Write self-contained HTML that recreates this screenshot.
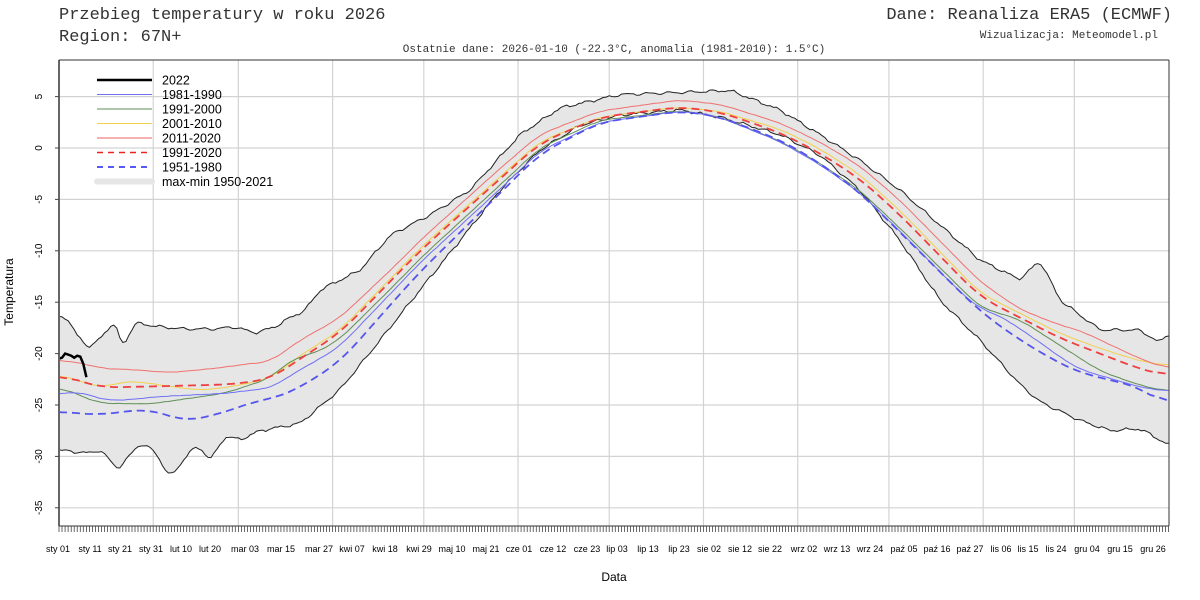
<!DOCTYPE html>
<html><head><meta charset="utf-8"><style>
html,body{margin:0;padding:0;background:#fff;width:1200px;height:600px;overflow:hidden}
svg{display:block}
.m{font-family:"Liberation Mono",monospace;fill:#333}
.s{font-family:"Liberation Sans",Arial,sans-serif;fill:#000}
</style></head><body>
<svg id="c" width="1200" height="600" xmlns="http://www.w3.org/2000/svg">
<text class="m" x="59" y="19" font-size="17">Przebieg temperatury w roku 2026</text>
<text class="m" x="59" y="41" font-size="17">Region: 67N+</text>
<text class="m" x="1172" y="19" font-size="17" text-anchor="end">Dane: Reanaliza ERA5 (ECMWF)</text>
<text class="m" x="1158" y="38" font-size="11" text-anchor="end">Wizualizacja: Meteomodel.pl</text>
<text class="m" x="614" y="52" font-size="11" text-anchor="middle">Ostatnie dane: 2026-01-10 (-22.3°C, anomalia (1981-2010): 1.5°C)</text>
<text class="s" x="614" y="581" font-size="12" text-anchor="middle">Data</text>
<text class="s" font-size="12" text-anchor="middle" transform="translate(13,292) rotate(-90)">Temperatura</text>
<g id="g"></g>
</svg>
<script>
var NS="http://www.w3.org/2000/svg",g=document.getElementById('g');
function el(t,a,txt){var e=document.createElementNS(NS,t);for(var k in a)e.setAttribute(k,a[k]);if(txt!=null)e.textContent=txt;g.appendChild(e);return e;}
var L=59,R=1169,T=60,B=526;
function X(d){return L+d*3.04;}
function Y(v){return 148-v*10.28;}
function xd(x){return (x-59)/3.04;}
function interp(pts,d){for(var i=0;i<pts.length-1;i++){if(d<=pts[i+1][0]){var a=pts[i],b=pts[i+1],t=(d-a[0])/(b[0]-a[0]);return a[1]+(b[1]-a[1])*t;}}return pts[pts.length-1][1];}
function P(arr){return arr.map(function(p){return [xd(p[0]),p[1]];});}
var up=P([[59,-16.5],[66,-16.3],[75,-18],[90,-19.5],[100,-18.5],[115,-16.8],[122,-19.5],[135,-17],[160,-17.4],[185,-17.6],[215,-17.6],[235,-17.4],[255,-18],[275,-17.4],[290,-16.5],[305,-15.8],[320,-13.8],[360,-11.9],[390,-8.5],[430,-6.5],[470,-4.1],[520,1.3],[560,3.9],[620,5.2],[680,5.4],[730,5.6],[780,3.7],[820,1.3],[860,-1.2],[900,-4.1],[940,-7.5],[980,-10.9],[1020,-12.8],[1040,-10.9],[1060,-14.8],[1100,-17.7],[1140,-17.7],[1160,-19],[1169,-17.8]]);
var lo=P([[59,-29.4],[90,-29.7],[100,-29.3],[118,-31.3],[140,-28.7],[155,-29.5],[170,-32.1],[190,-29.5],[200,-29],[210,-30.5],[225,-28],[240,-28.4],[260,-27.5],[300,-26.8],[340,-23.5],[380,-18.7],[420,-13.8],[460,-9],[500,-4.1],[540,-0.2],[580,2.2],[620,3.2],[680,3.7],[720,3.0],[780,1.3],[820,-0.7],[860,-4.1],[900,-9],[940,-14.8],[980,-18.7],[1020,-23],[1040,-24.7],[1080,-26.5],[1110,-27.5],[1140,-27.3],[1169,-28.9]]);
var mean=P([[59,-22],[100,-23.3],[150,-23.2],[230,-23],[270,-22.5],[300,-20.5],[340,-18],[380,-14],[420,-10],[460,-6.5],[500,-3],[540,0.5],[600,3],[680,4],[720,3.5],[780,1.5],[820,-0.5],[860,-3],[900,-6.5],[940,-10.5],[980,-14.5],[1020,-16.5],[1060,-18.5],[1100,-20],[1140,-21.5],[1169,-22.2]]);
function nz(d,s,a){return a*(Math.sin(d*1.7+s)*0.5+Math.sin(d*3.1+s*2)*0.3+Math.sin(d*0.9+s*3)*0.4);}
function smooth(v,w){var o=[];for(var i=0;i<v.length;i++){var s=0,n=0;for(var j=-w;j<=w;j++){var k=i+j;if(k>=0&&k<v.length){s+=v[k];n++;}}o.push(s/n);}return o;}
function series(f,w){var v=[];for(var d=0;d<=365;d++)v.push(f(d));if(w)v=smooth(v,w);return v.map(function(y,d){return [X(d),Y(y)];});}
function path(s){return s.map(function(p,i){return (i?'L':'M')+p[0].toFixed(1)+' '+p[1].toFixed(1);}).join('');}
[5,0,-5,-10,-15,-20,-25,-30,-35].forEach(function(v){el('line',{x1:L,x2:R,y1:Y(v),y2:Y(v),stroke:'#d3d3d3','stroke-width':1.2});});
[0,31,59,90,120,151,181,212,243,273,304,334].forEach(function(d){el('line',{x1:X(d),x2:X(d),y1:T,y2:B,stroke:'#d3d3d3','stroke-width':1.2});});
var U=series(function(d){return interp(up,d)+nz(d,1,0.35);},1),Lo=series(function(d){return interp(lo,d)+nz(d,2,0.35);},1);
el('path',{d:path(U)+Lo.slice().reverse().map(function(p){return 'L'+p[0].toFixed(1)+' '+p[1].toFixed(1);}).join('')+'Z',fill:'#e6e6e6'});
el('path',{d:path(U),fill:'none',stroke:'#222','stroke-width':1});
el('path',{d:path(Lo),fill:'none',stroke:'#222','stroke-width':1});
function off(pts){var q=P(pts);return function(d){return interp(mean,d)+interp(q,d);};}
var yel=off([[59,0],[100,0],[130,0.6],[200,-0.5],[260,0],[300,0.3],[500,0.2],[600,0],[700,0],[800,0.4],[900,0.4],[1000,0.4],[1100,0.5],[1169,1]]);
var grn=off([[59,-1.2],[90,-1.5],[150,-1.7],[220,-0.9],[290,0.5],[320,-0.5],[400,-0.8],[500,-0.6],[600,-0.3],[700,-0.4],[800,-0.9],[900,-1.3],[980,-1],[1020,-0.2],[1060,-0.7],[1100,-1.7],[1169,-1.5]]);
var blu=off([[59,-2],[80,-1],[120,-1.3],[160,-1],[250,-0.8],[290,-1],[330,-1.3],[400,-1.2],[500,-1],[600,-0.5],[700,-0.4],[800,-1],[900,-1.6],[960,-1.5],[1000,-0.8],[1040,-1.4],[1080,-2.3],[1169,-1.5]]);
var red=off([[59,1.4],[90,1.9],[130,1.7],[170,1.3],[200,1.5],[240,1.8],[270,1.7],[300,1.8],[400,1],[500,1],[600,0.6],[700,0.7],[800,1],[900,1.4],[980,1.5],[1020,0.8],[1080,1.5],[1140,1],[1169,0.7]]);
var b51=off([[59,-3.6],[110,-2.5],[150,-2.2],[185,-3.5],[220,-2.8],[260,-1.8],[300,-2.8],[340,-2.8],[400,-2.2],[500,-1.4],[600,-0.5],[700,-0.4],[800,-0.8],[900,-1.7],[980,-1.4],[1020,-2.2],[1080,-2.6],[1140,-1.8],[1169,-3]]);
[[yel,'#f2d04a'],[grn,'#5e8f55'],[blu,'#6f6ff5'],[red,'#f07070']].forEach(function(s,i){el('path',{d:path(series(function(d){return s[0](d)+nz(d,5+i,0.12);},4)),fill:'none',stroke:s[1],'stroke-width':1});});
el('path',{d:path(series(function(d){return interp(mean,d);},6)),fill:'none',stroke:'#ee4040','stroke-width':1.8,'stroke-dasharray':'8,5'});
el('path',{d:path(series(b51,6)),fill:'none',stroke:'#5555ee','stroke-width':1.8,'stroke-dasharray':'8,5'});
var k=[-20.5,-20.4,-20,-20.1,-20.2,-20.4,-20.2,-20.3,-21,-22.3];
el('path',{d:path(k.map(function(v,i){return [X(i),Y(v)];})),fill:'none',stroke:'#000','stroke-width':2.5});
el('line',{x1:L,x2:L,y1:T,y2:B,stroke:'#666','stroke-width':2});
el('line',{x1:R,x2:R,y1:T,y2:B,stroke:'#333','stroke-width':1});
el('line',{x1:L,x2:R,y1:T,y2:T,stroke:'#333','stroke-width':1});
el('line',{x1:L,x2:R,y1:B,y2:B,stroke:'#333','stroke-width':1});
var tk='';for(var d=0;d<=365;d++){tk+='M'+X(d).toFixed(1)+' '+B+'V'+(B+6);}
el('path',{d:tk,stroke:'#444','stroke-width':0.8});
[5,0,-5,-10,-15,-20,-25,-30,-35].forEach(function(v){el('line',{x1:L-4,x2:L,y1:Y(v),y2:Y(v),stroke:'#444'});el('text',{class:'s','font-size':10,'text-anchor':'middle',transform:'translate(42,'+Y(v)+') rotate(-90)'},String(v));});
var lab=[['sty 01',58],['sty 11',90],['sty 21',120],['sty 31',151],['lut 10',181],['lut 20',210],['mar 03',245],['mar 15',281],['mar 27',319],['kwi 07',352],['kwi 18',385],['kwi 29',419],['maj 10',452],['maj 21',486],['cze 01',519],['cze 12',553],['cze 23',587],['lip 03',617],['lip 13',648],['lip 23',679],['sie 02',709],['sie 12',740],['sie 22',770],['wrz 02',804],['wrz 13',837],['wrz 24',870],['paź 05',904],['paź 16',937],['paź 27',970],['lis 06',1001],['lis 15',1028],['lis 24',1056],['gru 04',1087],['gru 15',1120],['gru 26',1153]];
lab.forEach(function(l){el('text',{class:'s',x:l[1],y:552,'font-size':9,'text-anchor':'middle'},l[0]);});
var lg=[['2022','#000',2.5,null],['1981-1990','#7070f5',1,null],['1991-2000','#5e8f55',1,null],['2001-2010','#f2d04a',1,null],['2011-2020','#f08080',1.3,null],['1991-2020','#ee2020',1.6,'6,5'],['1951-1980','#2020ee',1.6,'6,5'],['max-min 1950-2021','#e6e6e6',6,null]];
lg.forEach(function(l,i){var y=80+i*14.5;var a={x1:97,x2:152,y1:y,y2:y,stroke:l[1],'stroke-width':l[2]};if(l[3])a['stroke-dasharray']=l[3];if(i==7)a['stroke-linecap']='round';el('line',a);el('text',{class:'s',x:162,y:y+4.5,'font-size':12.5},l[0]);});
</script>
</body></html>
